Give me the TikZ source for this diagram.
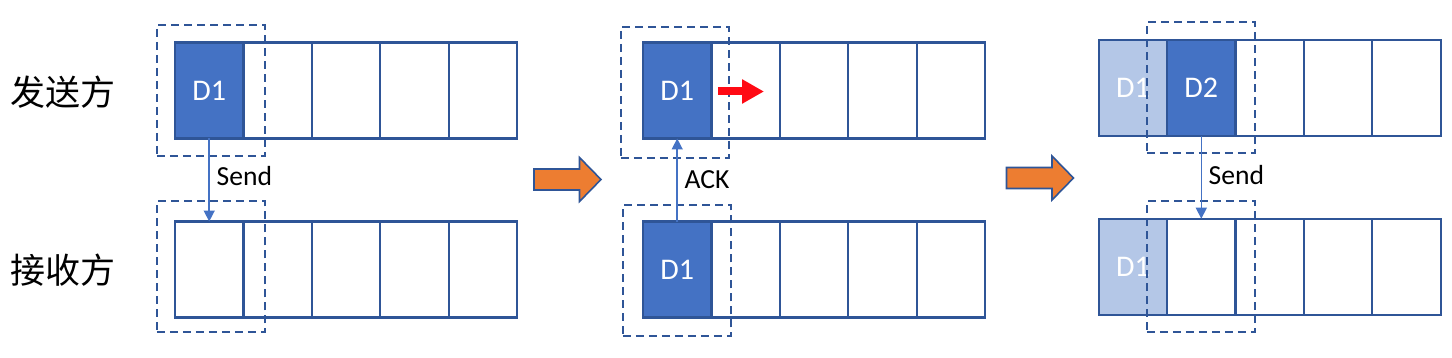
\documentclass[tikz,border=0pt]{standalone}
\usepackage{fontspec}
\setmainfont{Carlito}
\newfontfamily\cjkfont{Noto Sans CJK SC}
\usepackage{xcolor}
\usetikzlibrary{arrows.meta,positioning}

\definecolor{cellblue}{HTML}{2F5597}
\definecolor{dfill}{HTML}{4472C4}
\definecolor{dlight}{HTML}{B4C7E7}
\definecolor{steporange}{HTML}{ED7D31}
\definecolor{moved}{HTML}{FF0A14}

\newcommand{\cellfont}{\fontsize{15pt}{18pt}\selectfont}
\newcommand{\msgfont}{\fontsize{13.8pt}{16pt}\selectfont}
\newcommand{\rolefont}{\cjkfont\fontsize{17.5pt}{20pt}\selectfont}

\begin{document}
\begin{tikzpicture}[
    x=0.5pt, y=-0.5pt,
    cell/.style={rectangle, draw=cellblue, line width=1.1pt, minimum width=34.2pt, minimum height=48pt, inner sep=0pt, outer sep=0pt, font=\cellfont, text=white},
    filled/.style={fill=dfill},
    faded/.style={fill=dlight},
    window/.style={rectangle, draw=cellblue, dash pattern=on 4pt off 2.5pt, line width=1pt, minimum width=54pt, minimum height=65.5pt, inner sep=0pt},
    role/.style={anchor=west, inner sep=0pt, font=\rolefont},
    msg/.style={-{Triangle[length=5.5pt,width=5.5pt]}, draw=dfill, line width=0.75pt},
    msglabel/.style={right, font=\msgfont},
    bigarrow/.style={fill=steporange, draw=cellblue, line width=0.8pt},
    slide/.style={draw=moved, line width=4pt, -{Triangle[length=11pt,width=11.5pt]}}
]
\useasboundingbox (0,0) rectangle (1452,358);

% Roles
\node[role] (sendrole) at (10,92) {发送方};
\node[role] (recvrole) at (10,270) {接收方};

% Step 1: send D1
\node[cell, filled] (snda1) at (209.2,90.5) {D1};
\node[cell] (rcva1) at (209.2,269.5) {};
\foreach \i [count=\j from 2] in {1,...,4} {
  \node[cell, right=0pt of snda\i] (snda\j) {};
  \node[cell, right=0pt of rcva\i] (rcva\j) {};
}
\node[window] (winsa) at (210.9,90.5) {};
\node[window] (winra) at (210.9,266.9) {};
\draw[msg] (snda1) -- node[msglabel, yshift=2pt] {Send} (rcva1);

% Step 2: ACK
\coordinate (stepab) at (534,179.5);
\draw[bigarrow] (stepab) ++(0,-10.5) -- ++(45.5,0) -- ++(0,-11.5) -- ++(21.5,22) -- ++(-21.5,22) -- ++(0,-11.5) -- ++(-45.5,0) -- cycle;

\node[cell, filled] (sndb1) at (677.2,90.5) {D1};
\node[cell, filled] (rcvb1) at (677.2,269.5) {D1};
\foreach \i [count=\j from 2] in {1,...,4} {
  \node[cell, right=0pt of sndb\i] (sndb\j) {};
  \node[cell, right=0pt of rcvb\i] (rcvb\j) {};
}
\node[window] (winsb) at (674.9,92.3) {};
\node[window] (winrb) at (676.9,270.9) {};
\draw[msg] (rcvb1) -- node[msglabel] {ACK} (sndb1);
\coordinate (movestart) at (718,91.5);
\draw[slide] (movestart) -- ++(46,0);

% Step 3: send D2
\coordinate (stepbc) at (1006.5,178);
\draw[bigarrow] (stepbc) ++(0,-10.5) -- ++(45.5,0) -- ++(0,-11.5) -- ++(21.5,22) -- ++(-21.5,22) -- ++(0,-11.5) -- ++(-45.5,0) -- cycle;

\node[cell, faded] (sndc1) at (1132.9,88) {D1};
\node[cell, faded] (rcvc1) at (1132.9,266.7) {D1};
\foreach \i [count=\j from 2] in {1,...,4} {
  \node[cell, right=0pt of sndc\i] (sndc\j) {};
  \node[cell, right=0pt of rcvc\i] (rcvc\j) {};
}
\node[cell, filled] at (sndc2) {D2};
\node[window] (winsc) at (1200.9,87.7) {};
\node[window] (winrc) at (1200.9,266.7) {};
\draw[msg] (sndc2) -- node[msglabel, yshift=1pt] {Send} (rcvc2);

\end{tikzpicture}
\end{document}
